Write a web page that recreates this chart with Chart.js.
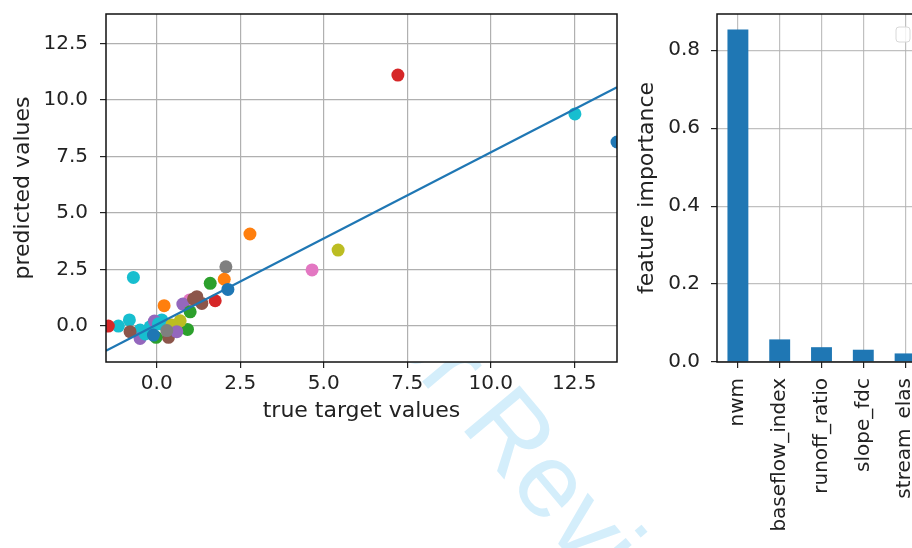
<!DOCTYPE html>
<html>
<head>
<meta charset="utf-8">
<script src="https://cdn.jsdelivr.net/npm/chart.js@4.4.1/dist/chart.umd.min.js"></script>
<style>
  html, body { margin: 0; padding: 0; width: 912px; height: 548px; overflow: hidden; background: #fff; }
  body { position: relative; }
  #watermark {
    position: absolute; left: 407px; top: 225px;
    font-family: "Liberation Sans"; font-size: 105px; line-height: 1;
    color: #d4eefb; white-space: nowrap;
    transform-origin: 0 0; transform: rotate(50deg);
  }
  #scatterWrap { position: absolute; left: 0; top: 0; width: 640px; height: 548px; }
  #barWrap { position: absolute; left: 620px; top: 0; width: 310px; height: 548px; }
</style>
</head>
<body>
<div id="watermark">For Review</div>
<div id="scatterWrap"><canvas id="scatterChart"></canvas></div>
<div id="barWrap"><canvas id="barChart"></canvas></div>
<script>
// scatter: true vs predicted
const trueVals = [7.22, 12.52, 13.78, 2.79, 5.43, 4.65, -0.70, 2.07, 2.02, 1.60, 2.13, 1.75, 1.20, 1.35, 0.98, 0.78, 0.22, 1.00, 0.92, 0.70, 0.55, 0.35, -0.02, 0.15, -0.20, -0.50, -0.82, -1.15, -0.50, -0.80, -1.45, -0.07, 0.05, -0.35, -0.10, 0.45, 0.60, 1.10, 0.30];
const predVals = [11.10, 9.38, 8.14, 4.07, 3.36, 2.48, 2.15, 2.62, 2.07, 1.89, 1.62, 1.12, 1.30, 1.00, 1.15, 0.97, 0.90, 0.63, -0.15, 0.23, -0.03, -0.50, -0.50, 0.27, -0.03, -0.18, 0.27, 0.00, -0.55, -0.25, 0.00, 0.22, 0.10, -0.35, -0.40, 0.05, -0.25, 1.20, -0.20];
const pointColorIdx = [3, 9, 0, 1, 8, 6, 9, 7, 1, 2, 0, 3, 5, 5, 6, 4, 1, 2, 2, 8, 8, 5, 2, 9, 9, 9, 9, 9, 4, 5, 3, 4, 9, 9, 0, 8, 4, 5, 7];
const fitX = [-1.52, 13.78];
const fitY = [-1.09, 10.56];
const scatterTicks = [0, 2.5, 5, 7.5, 10, 12.5];

// feature importance
const featureNames = ["nwm", "baseflow_index", "runoff_ratio", "slope_fdc", "stream_elas"];
const importance = [0.853, 0.058, 0.038, 0.0315, 0.022];
const importanceTicks = [0, 0.2, 0.4, 0.6, 0.8];

const tab10 = ["#1f77b4", "#ff7f0e", "#2ca02c", "#d62728", "#9467bd",
               "#8c564b", "#e377c2", "#7f7f7f", "#bcbd22", "#17becf"];
const textColor = "#222";
const gridColor = "#b0b0b0";
const tickFont = { family: "DejaVu Sans", size: 20 };
const titleFont = { family: "DejaVu Sans", size: 22 };

Chart.defaults.animation = false;
Chart.defaults.color = textColor;

// white axes face + black frame
const framePlugin = {
  id: "frame",
  beforeDraw(chart) {
    const { ctx, chartArea: a } = chart;
    ctx.save();
    ctx.fillStyle = "#fff";
    ctx.fillRect(a.left, a.top, a.width, a.height);
    ctx.restore();
  },
  afterDraw(chart) {
    const { ctx, chartArea: a } = chart;
    ctx.save();
    ctx.strokeStyle = "#111";
    ctx.lineWidth = 1.5;
    ctx.strokeRect(a.left, a.top, a.width, a.height);
    ctx.restore();
  }
};

// empty legend box (no handles)
const emptyLegend = {
  id: "emptyLegend",
  afterDraw(chart) {
    const { ctx, chartArea: a } = chart;
    ctx.save();
    ctx.fillStyle = "rgba(255,255,255,0.8)";
    ctx.strokeStyle = "#d8d8d8";
    ctx.lineWidth = 1;
    ctx.beginPath();
    ctx.roundRect(a.right - 30, a.top + 13, 14, 15, 3);
    ctx.fill();
    ctx.stroke();
    ctx.restore();
  }
};

const setTicks = values => scale => {
  scale.ticks = values.map(v => ({ value: v }));
};

// fixed axis size, no extra label overhang
const fixSize = (prop, size) => scale => {
  scale[prop] = size;
  scale.paddingTop = scale.paddingBottom = scale.paddingLeft = scale.paddingRight = 0;
};

new Chart(document.getElementById("scatterChart"), {
  type: "scatter",
  data: {
    datasets: [
      {
        type: "line",
        data: fitX.map((x, i) => ({ x: x, y: fitY[i] })),
        borderColor: "#1f77b4",
        borderWidth: 2.2,
        pointRadius: 0,
        showLine: true,
        fill: false
      },
      {
        data: trueVals.map((x, i) => ({ x: x, y: predVals[i] })),
        backgroundColor: pointColorIdx.map(c => tab10[c]),
        borderWidth: 0,
        pointRadius: 6.5,
        pointHoverRadius: 6.5
      }
    ]
  },
  options: {
    responsive: true,
    maintainAspectRatio: false,
    layout: { padding: { top: 14, right: 23, bottom: 120, left: 0 } },
    plugins: { legend: { display: false }, tooltip: { enabled: false } },
    scales: {
      x: {
        type: "linear",
        min: -1.52,
        max: 13.78,
        afterBuildTicks: setTicks(scatterTicks),
        afterFit: fixSize("height", 66),
        grid: { color: gridColor, lineWidth: 1.2, tickColor: textColor, tickLength: 6, tickWidth: 1.2 },
        border: { display: false },
        ticks: { font: tickFont, color: textColor, padding: 4, callback: v => v.toFixed(1) },
        title: { display: true, text: "true target values", font: titleFont, color: textColor, padding: { top: 0, bottom: 4 } }
      },
      y: {
        type: "linear",
        min: -1.59,
        max: 13.8,
        afterBuildTicks: setTicks(scatterTicks),
        afterFit: fixSize("width", 106),
        grid: { color: gridColor, lineWidth: 1.2, tickColor: textColor, tickLength: 6, tickWidth: 1.2 },
        border: { display: false },
        ticks: { font: tickFont, color: textColor, padding: 12, callback: v => v.toFixed(1) },
        title: { display: true, text: "predicted values", font: titleFont, color: textColor, padding: { top: 10, bottom: 0 } }
      }
    }
  },
  plugins: [framePlugin]
});

new Chart(document.getElementById("barChart"), {
  type: "bar",
  data: {
    labels: featureNames,
    datasets: [{
      data: importance,
      backgroundColor: "#1f77b4",
      categoryPercentage: 1,
      barPercentage: 0.5
    }]
  },
  options: {
    responsive: true,
    maintainAspectRatio: false,
    layout: { padding: { top: 14, right: 4, bottom: 0, left: 0 } },
    plugins: { legend: { display: false }, tooltip: { enabled: false } },
    scales: {
      x: {
        z: 1,
        afterFit: fixSize("height", 186),
        grid: { offset: false, color: "rgba(176,176,176,0.8)", lineWidth: 1.2, tickColor: textColor, tickLength: 6, tickWidth: 1.2 },
        border: { display: false },
        ticks: { font: tickFont, color: textColor, padding: 10, minRotation: 90, maxRotation: 90, autoSkip: false }
      },
      y: {
        z: 1,
        min: 0,
        max: 0.893,
        afterBuildTicks: setTicks(importanceTicks),
        afterFit: fixSize("width", 97),
        grid: { color: "rgba(176,176,176,0.8)", lineWidth: 1.2, tickColor: textColor, tickLength: 6, tickWidth: 1.2 },
        border: { display: false },
        ticks: { font: tickFont, color: textColor, padding: 11, callback: v => v.toFixed(1) },
        title: { display: true, text: "feature importance", font: titleFont, color: textColor, padding: { top: 14, bottom: 0 } }
      }
    }
  },
  plugins: [framePlugin, emptyLegend]
});
</script>
</body>
</html>
